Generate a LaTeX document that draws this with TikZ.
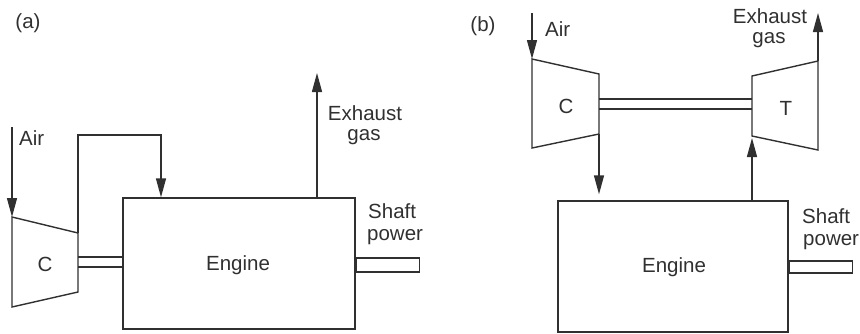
\documentclass[tikz,border=0pt]{standalone}
\usepackage{fontspec}
\setmainfont{Liberation Sans}
\usetikzlibrary{arrows.meta}
\definecolor{ink}{HTML}{303030}
\begin{document}
\begin{tikzpicture}[x=1pt,y=-1pt,
  line/.style={draw=ink,line width=1.4pt,line join=miter},
  arr/.style={line,-{Triangle[length=19pt,width=10pt]}},
  box/.style={line,rectangle,inner sep=0pt},
  lbl/.style={text=ink,inner sep=0pt,font=\fontsize{20.5}{24}\selectfont}]
\useasboundingbox (0,0) rectangle (860,333);

% ---------------- panel (a) ----------------
\node[lbl] (tagA) at (28,23) {(a)};
\node[box,minimum width=232pt,minimum height=131pt] (engA) at (239,263.5) {};
\node[lbl,anchor=base] (engAtxt) at (238,270) {Engine};
\coordinate (cAtl) at (12,217);
\coordinate (cAbl) at (12,307);
\coordinate (cAtr) at (78,233);
\coordinate (cAbr) at (78,292);
\draw[line] (cAtl) -- (cAtr) -- (cAbr) -- (cAbl) -- cycle;
\node[lbl,anchor=base] (cAtxt) at (45,271) {C};
\coordinate (airA) at (12,127);
\draw[arr] (airA) -- (cAtl);
\node[lbl,anchor=base west] (airAtxt) at (19,145) {Air};
\coordinate (ductA) at (161,135);
\draw[arr] (cAtr) |- (ductA) -- (ductA |- engA.north);
\draw[line] (cAtr |- 0,257) -- (engA.west |- 0,257);
\draw[line] (cAtr |- 0,267) -- (engA.west |- 0,267);
\coordinate (exA) at (317,73);
\draw[arr] (engA.north -| exA) -- (exA);
\node[lbl,anchor=base] (exhA1) at (365,120) {Exhaust};
\node[lbl,anchor=base] (exhA2) at (364,140) {gas};
\node[box,minimum width=63pt,minimum height=14pt,anchor=west] (shA) at (engA.east |- 0,265) {};
\node[lbl,anchor=base west] (shAt1) at (368,218) {Shaft};
\node[lbl,anchor=base west] (shAt2) at (367,240) {power};

% ---------------- panel (b) ----------------
\node[lbl] (tagB) at (483,26) {(b)};
\node[box,minimum width=230pt,minimum height=131pt] (engB) at (673,266.5) {};
\node[lbl,anchor=base] (engBtxt) at (674,272) {Engine};
\coordinate (cBtl) at (532,59);
\coordinate (cBbl) at (532,148);
\coordinate (cBtr) at (599,74);
\coordinate (cBbr) at (599,134);
\draw[line] (cBtl) -- (cBtr) -- (cBbr) -- (cBbl) -- cycle;
\node[lbl,anchor=base] (cBtxt) at (566,113) {C};
\coordinate (tBtl) at (752,76);
\coordinate (tBbl) at (752,136);
\coordinate (tBtr) at (818,61);
\coordinate (tBbr) at (818,150);
\draw[line] (tBtl) -- (tBtr) -- (tBbr) -- (tBbl) -- cycle;
\node[lbl,anchor=base] (tBtxt) at (786,115) {T};
\draw[line] (cBtr |- 0,99) -- (tBtl |- 0,99);
\draw[line] (cBtr |- 0,109) -- (tBtl |- 0,109);
\coordinate (airB) at (532,13);
\draw[arr] (airB) -- (cBtl);
\node[lbl,anchor=base west] (airBtxt) at (545,36) {Air};
\coordinate (exB) at (818,13);
\draw[arr] (tBtr) -- (exB);
\node[lbl,anchor=base] (exhB1) at (770,23) {Exhaust};
\node[lbl,anchor=base] (exhB2) at (769,43) {gas};
\draw[arr] (cBbr) -- ([yshift=6pt]engB.north -| cBbr);
\draw[arr] (engB.north -| tBbl) -- ([yshift=-2pt]tBbl);
\node[box,minimum width=63pt,minimum height=12pt,anchor=west] (shB) at (engB.east |- 0,267) {};
\node[lbl,anchor=base west] (shBt1) at (802,223) {Shaft};
\node[lbl,anchor=base west] (shBt2) at (803,245) {power};
\end{tikzpicture}
\end{document}
